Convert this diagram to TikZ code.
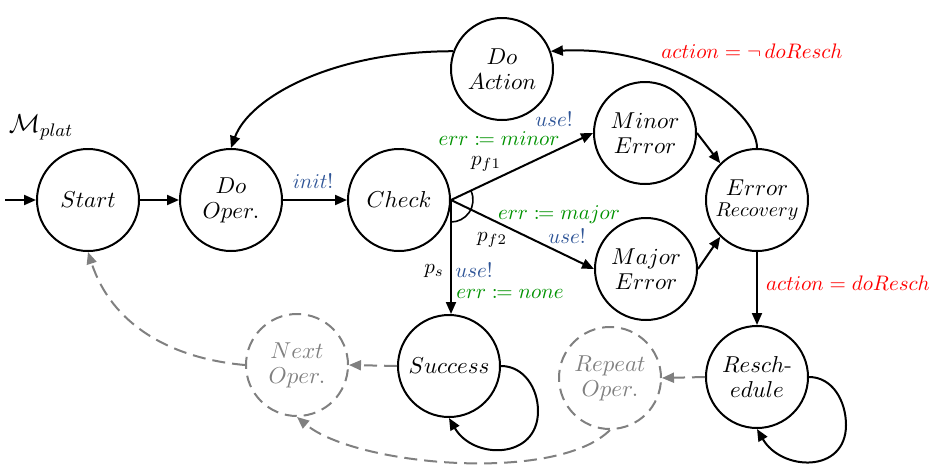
\RequirePackage{fix-cm}
\documentclass[tikz,border=0pt]{standalone}
\usepackage{mathtools}
\usetikzlibrary{arrows.meta}
\definecolor{syncblue}{RGB}{47,85,151}
\definecolor{updgreen}{RGB}{0,146,0}
\definecolor{guardred}{RGB}{255,0,0}
\definecolor{ghostgray}{RGB}{128,128,128}
\tikzset{
  stnode/.style={draw, circle, line width=1pt, minimum size=51pt, inner sep=0pt,
    align=center, font=\fontsize{11.5}{12.5}\selectfont},
  ghostnode/.style={stnode, draw=ghostgray, text=ghostgray, dash pattern=on 6pt off 3.5pt},
  arr/.style={line width=1pt, -{Triangle[length=6pt,width=5pt]}},
  garr/.style={line width=1pt, draw=ghostgray, dash pattern=on 6.5pt off 3.5pt,
    -{Triangle[length=6pt,width=5pt]}},
  lbl/.style={font=\fontsize{10.5}{12}\selectfont, inner sep=0pt},
}
\begin{document}
\begin{tikzpicture}[x=0.5pt,y=-0.5pt]
\useasboundingbox (0,0) rectangle (937,467);

% states
\node[stnode] (start) at (88,200) {$Start$};
\node[stnode] (doop)  at (231,200) {$Do$\\$Oper.$};
\node[stnode] (check) at (399,200) {$Check$};
\node[stnode] (minor) at (645,133) {$Minor$\\$Error$};
\node[stnode] (major) at (646,269) {$Major$\\$Error$};
\node[stnode] (recov) at (757,200) {$Error$\\[-2pt]{\fontsize{10}{11}\selectfont$Recovery$}};
\node[stnode] (resch) at (757,377) {$Resch$-\\$edule$};
\node[stnode] (doact) at (502,69) {$Do$\\$Action$};
\node[stnode] (succ)  at (449,366) {$Success$};
\node[ghostnode] (next) at (297,365) {$Next$\\$Oper.$};
\node[ghostnode] (rep)  at (610,378) {$Repeat$\\$Oper.$};

% automaton name
\node[font=\fontsize{13}{14}\selectfont, inner sep=0pt] (mname) at (41,127) {$\mathcal{M}_{plat}$};

% initial arrow
\coordinate (init) at (5,200);
\draw[arr] (init) -- (start);

% main flow
\draw[arr] (start) -- (doop);
\draw[arr] (doop) -- (check);
\node[lbl, text=syncblue] (linit) at (313,181) {$init!$};

% probabilistic branching out of Check
\draw[arr] (check.east) -- (minor.west);
\draw[arr] (check.east) -- (major.west);
\draw[arr] (check.east) -- (check.east |- succ.north);
\draw[line width=0.8pt] (check.east) ++(24.8:11pt) arc[start angle=24.8, end angle=-90, radius=11pt];

\node[lbl, text=syncblue] (luse1) at (554,119) {$use!$};
\node[lbl, text=updgreen] (lmin)  at (499,139) {$err \coloneqq minor$};
\node[lbl] (pf1) at (486,164) {$p_{f1}$};
\node[lbl, text=updgreen] (lmaj)  at (559,215) {$err \coloneqq major$};
\node[lbl, text=syncblue] (luse2) at (567,236) {$use!$};
\node[lbl] (pf2) at (492,240) {$p_{f2}$};
\node[lbl] (ps) at (434,271) {$p_s$};
\node[lbl, text=syncblue] (luse3) at (474,270) {$use!$};
\node[lbl, text=updgreen] (lnone) at (510,294) {$err \coloneqq none$};

% error handling
\draw[arr] (minor.east) -- (recov.135);
\draw[arr] (major.east) -- (recov.225);
\draw[arr] (recov.south) -- (resch.north);
\node[lbl, text=guardred] (lresch) at (848,283) {$action = doResch$};
\draw[arr] (recov.north) to[out=90, in=3, out looseness=0.45, in looseness=1.27] (doact.20);
\node[lbl, text=guardred] (lact) at (752,51) {$action = \neg\, doResch$};
\draw[arr] (doact.160) to[out=180, in=70, out looseness=1.29, in looseness=0.56] (doop.north);

% self loops
\draw[arr] (resch.east) to[out=0, in=90] ++(37,48) to[out=-90, in=-60, looseness=1.4] (resch.south);
\draw[arr] (succ.east) to[out=0, in=90] ++(37,45) to[out=-90, in=-60, looseness=1.4] (succ.south);

% follow-up operations
\draw[garr] (succ.west) -- (next.east);
\draw[garr] (resch.west) -- (rep.east);
\draw[garr] (next.west) to[out=175, in=-72] (start.south);
\draw[garr] (rep.south) to[out=-135, in=-40, looseness=0.62] (next.south);
\end{tikzpicture}
\end{document}
